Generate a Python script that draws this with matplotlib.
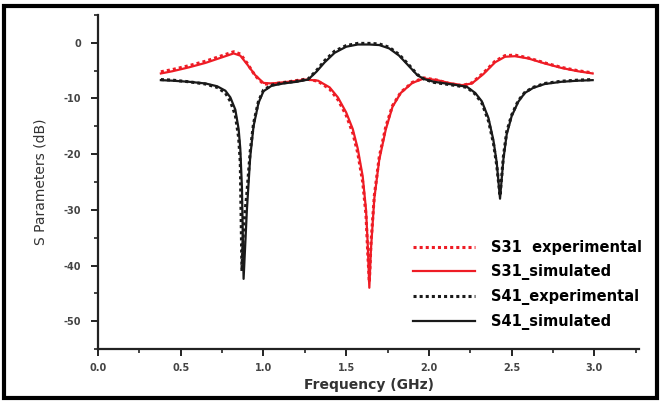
import matplotlib
matplotlib.use("Agg")
import matplotlib.pyplot as plt
from matplotlib.patches import Rectangle
from matplotlib.ticker import MultipleLocator

plt.rcParams['axes.unicode_minus'] = False
plt.rcParams['font.family'] = ['DejaVu Sans']

# S31 (red)
freq_s31 = [0.38, 0.45, 0.55, 0.65, 0.75, 0.82, 0.86, 0.90, 0.95, 1.00, 1.05, 1.15,
            1.26, 1.33, 1.40, 1.45, 1.50, 1.54, 1.57, 1.60, 1.62, 1.63, 1.64, 1.65,
            1.67, 1.70, 1.74, 1.78, 1.83, 1.90, 1.97, 2.05, 2.12, 2.20, 2.26, 2.33,
            2.40, 2.46, 2.52, 2.60, 2.70, 2.80, 2.90, 2.99]
s31_sim = [-5.5, -5.1, -4.4, -3.6, -2.6, -1.9, -2.3, -3.8, -5.8, -7.2, -7.3, -7.0,
           -6.6, -6.8, -8.0, -9.8, -12.5, -15.5, -19.0, -24.0, -30.0, -36.0, -44.0, -37.0,
           -28.0, -21.0, -15.5, -11.5, -9.0, -7.2, -6.4, -6.7, -7.2, -7.6, -7.3, -5.6,
           -3.5, -2.5, -2.4, -2.8, -3.7, -4.5, -5.1, -5.5]
s31_exp = [-5.2, -4.8, -4.1, -3.3, -2.3, -1.6, -2.0, -3.6, -5.9, -7.4, -7.4, -7.0,
           -6.5, -6.9, -8.3, -10.2, -13.0, -16.2, -19.8, -25.0, -31.0, -37.5, -43.0, -36.0,
           -27.5, -20.5, -15.0, -11.3, -8.9, -7.1, -6.3, -6.7, -7.3, -7.7, -7.2, -5.4,
           -3.3, -2.3, -2.2, -2.7, -3.6, -4.4, -5.0, -5.4]

# S41 (black)
freq_s41 = [0.38, 0.45, 0.55, 0.65, 0.72, 0.77, 0.80, 0.83, 0.85, 0.86, 0.87, 0.88,
            0.90, 0.92, 0.94, 0.97, 1.00, 1.05, 1.12, 1.20, 1.27, 1.32, 1.37, 1.43,
            1.50, 1.57, 1.64, 1.70, 1.76, 1.82, 1.88, 1.93, 1.97, 2.03, 2.10, 2.17,
            2.23, 2.28, 2.32, 2.36, 2.39, 2.41, 2.43, 2.45, 2.47, 2.50, 2.54, 2.58,
            2.63, 2.70, 2.80, 2.90, 2.99]
s41_sim = [-6.7, -6.8, -7.0, -7.3, -7.8, -8.6, -9.8, -12.0, -15.5, -19.0, -26.0, -42.4,
           -30.0, -20.5, -15.0, -10.8, -8.7, -7.7, -7.3, -7.0, -6.6, -5.2, -3.5, -1.8,
           -0.7, -0.3, -0.3, -0.4, -1.0, -2.3, -4.2, -5.8, -6.5, -7.0, -7.3, -7.6,
           -7.9, -9.0, -10.5, -13.5, -17.5, -21.5, -28.0, -21.0, -16.5, -13.2, -10.6, -9.0,
           -8.1, -7.4, -7.0, -6.8, -6.7]
s41_exp = [-6.6, -6.7, -7.0, -7.4, -8.0, -9.0, -10.5, -13.0, -17.0, -21.5, -41.0, -33.0,
           -27.0, -19.5, -14.5, -10.5, -8.5, -7.6, -7.2, -6.9, -6.5, -5.0, -3.2, -1.5,
           -0.5, -0.1, -0.1, -0.2, -0.8, -2.1, -4.0, -5.7, -6.5, -7.1, -7.4, -7.7,
           -8.0, -9.2, -10.8, -14.0, -18.0, -22.0, -27.5, -20.5, -16.0, -13.0, -10.4, -8.9,
           -8.0, -7.3, -6.9, -6.7, -6.6]

red = '#ee1c25'
black = '#1a1a1a'

fig = plt.figure(figsize=(6.61, 4.03), dpi=100)
ax = fig.add_axes([98 / 661, 1 - 349 / 403, (639 - 98) / 661, (349 - 15) / 403])

ax.plot(freq_s31, s31_exp, color=red, ls=(0, (1, 1)), lw=2.2, label='S31  experimental')
ax.plot(freq_s31, s31_sim, color=red, ls='-', lw=1.6, label='S31_simulated')
ax.plot(freq_s41, s41_exp, color=black, ls=(0, (1, 1)), lw=2.2, label='S41_experimental')
ax.plot(freq_s41, s41_sim, color=black, ls='-', lw=1.6, label='S41_simulated')

ax.set_xlim(0, 3.27)
ax.set_ylim(-55, 5)
ax.xaxis.set_minor_locator(MultipleLocator(0.25))
ax.yaxis.set_minor_locator(MultipleLocator(5))
ax.set_yticks([0, -10, -20, -30, -40, -50])
ax.set_xticks([0, 0.5, 1.0, 1.5, 2.0, 2.5, 3.0])
ax.set_xticklabels(['0.0', '0.5', '1.0', '1.5', '2.0', '2.5', '3.0'])

for side in ['top', 'right']:
    ax.spines[side].set_visible(False)
for side in ['left', 'bottom']:
    ax.spines[side].set_linewidth(1.6)
    ax.spines[side].set_color('#222222')

ax.tick_params(which='major', direction='out', length=5, width=1.4, colors='#222222',
               labelsize=7, labelcolor='#444444')
ax.tick_params(axis='y', which='major', pad=7)
ax.tick_params(axis='x', which='major', pad=5)
ax.tick_params(which='minor', direction='out', length=3, width=1.2, colors='#222222')
for t in ax.get_xticklabels() + ax.get_yticklabels():
    t.set_fontweight('bold')

ax.set_xlabel('Frequency (GHz)', fontsize=10, fontweight='bold', color='#333333', labelpad=4)
ax.set_ylabel('S Parameters (dB)', fontsize=10, color='#333333', labelpad=12)

ax.legend(loc='upper left', bbox_to_anchor=(406 / 661, 1 - 233 / 403),
          bbox_transform=fig.transFigure, frameon=False, handlelength=4.2,
          handletextpad=1.1, labelspacing=0.62, borderpad=0,
          prop={'size': 10.5, 'weight': 'bold'})

fig.patches.append(Rectangle((4 / 661, 1 - 398 / 403), 653 / 661, 392 / 403,
                             transform=fig.transFigure, fill=False,
                             edgecolor='black', linewidth=3))

fig.savefig('out.png', dpi=100)
